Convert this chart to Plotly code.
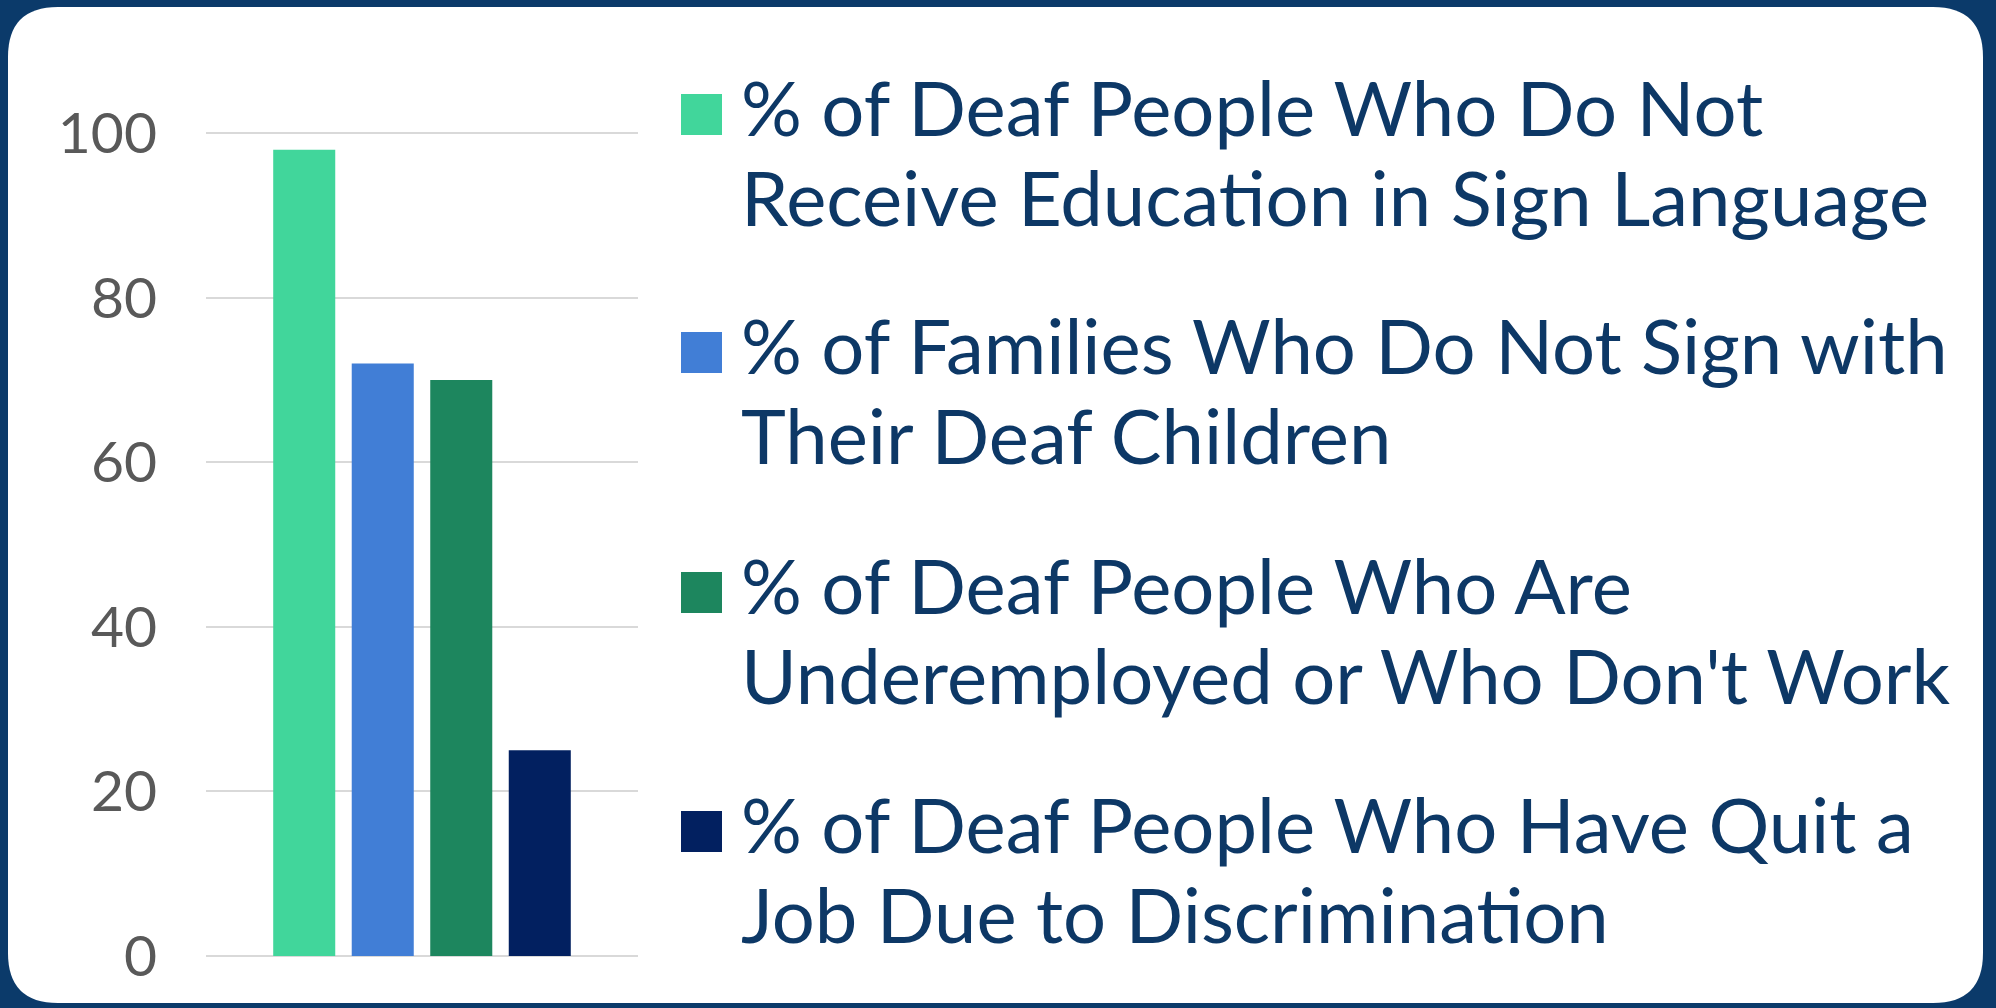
import plotly.graph_objects as go

# ---- data ----
categories = ["Deaf community"]
series_names = [
    "% of Deaf People Who Do Not<br>Receive Education in Sign Language",
    "% of Families Who Do Not Sign with<br>Their Deaf Children",
    "% of Deaf People Who Are<br>Underemployed or Who Don't Work",
    "% of Deaf People Who Have Quit a<br>Job Due to Discrimination",
]
series_values = [98, 72, 70, 25]
series_colors = ["#41D69B", "#417ED6", "#1D865E", "#022060"]
y_ticks = [0, 20, 40, 60, 80, 100]

# ---- layout geometry (pixels) ----
W, H = 1996, 1008
ML, MR, MT, MB = 206, 1358, 125, 52
PW = W - ML - MR
PH = H - MT - MB
NAVY = "#0B3A6A"
TEXT = "#0D3866"


def px_x(px):
    return (px - ML) / PW


def px_y(py):
    return (H - MB - py) / PH


fig = go.Figure()
for name, val, col in zip(series_names, series_values, series_colors):
    fig.add_trace(go.Bar(x=categories, y=[val], name=name.replace("<br>", " "),
                         marker=dict(color=col, line=dict(width=0)),
                         showlegend=False, hoverinfo="y"))

shapes = []
# white rounded panel
x0, x1, y0, y1, r = 8, 1983, 7, 1003, 50
X = px_x
Y = px_y
path = (f"M {X(x0+r)},{Y(y0)} L {X(x1-r)},{Y(y0)} Q {X(x1)},{Y(y0)} {X(x1)},{Y(y0+r)} "
        f"L {X(x1)},{Y(y1-r)} Q {X(x1)},{Y(y1)} {X(x1-r)},{Y(y1)} "
        f"L {X(x0+r)},{Y(y1)} Q {X(x0)},{Y(y1)} {X(x0)},{Y(y1-r)} "
        f"L {X(x0)},{Y(y0+r)} Q {X(x0)},{Y(y0)} {X(x0+r)},{Y(y0)} Z")
shapes.append(dict(type="path", path=path, xref="paper", yref="paper",
                   fillcolor="white", line=dict(width=0), layer="below"))

annotations = []
first_baselines = [136, 374, 614, 853]
line_gap = 90
FS = 76
for i, (name, col) in enumerate(zip(series_names, series_colors)):
    b = first_baselines[i]
    shapes.append(dict(type="rect", xref="paper", yref="paper",
                       x0=px_x(681), x1=px_x(722), y0=px_y(b - 1), y1=px_y(b - 42),
                       fillcolor=col, line=dict(width=0)))
    for j, line in enumerate(name.split("<br>")):
        base = b + j * line_gap
        annotations.append(dict(text=line, xref="paper", yref="paper",
                                x=px_x(739), y=px_y(base - 0.387 * FS),
                                xanchor="left", yanchor="middle", showarrow=False,
                                font=dict(family="Lato", size=FS, color=TEXT)))

fig.update_layout(
    width=W, height=H,
    margin=dict(l=ML, r=MR, t=MT, b=MB, pad=0),
    paper_bgcolor=NAVY, plot_bgcolor="rgba(0,0,0,0)",
    barmode="group", bargap=0.273, bargroupgap=0.21,
    shapes=shapes, annotations=annotations,
    showlegend=False,
    font=dict(family="Lato"),
)
fig.update_xaxes(showticklabels=False, showgrid=False, zeroline=False, showline=False)
fig.update_yaxes(range=[0, 101], tickvals=y_ticks, showgrid=True, gridcolor="#D9D9D9",
                 gridwidth=2, zeroline=True, zerolinecolor="#D9D9D9", zerolinewidth=2,
                 showline=False, ticks="", ticklabelstandoff=48,
                 tickfont=dict(family="Lato", size=57, color="#595959"))

fig.write_html("out.html", config={"displayModeBar": False},
               post_script="document.body.style.margin='0';document.body.style.background='" + NAVY + "';")
